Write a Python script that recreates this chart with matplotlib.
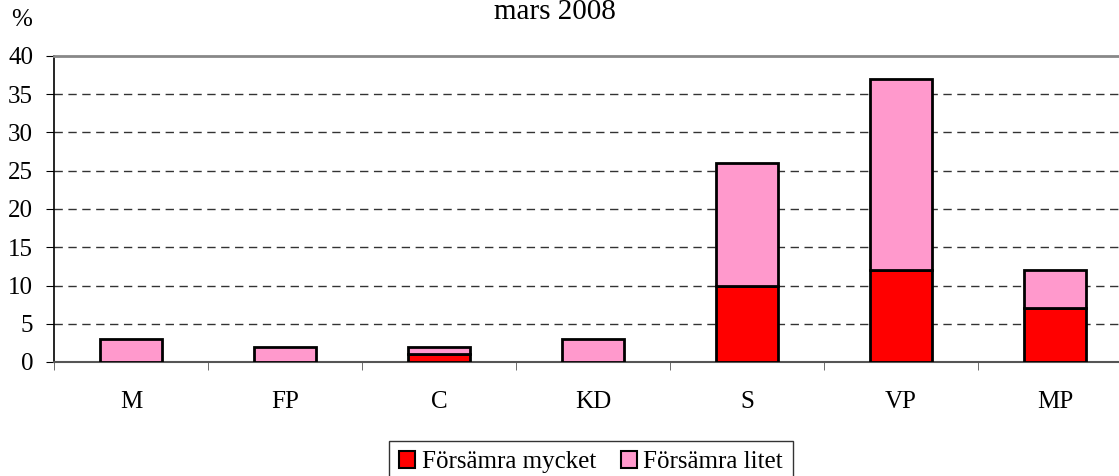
import matplotlib
matplotlib.use("Agg")
import matplotlib.pyplot as plt
from matplotlib.patches import Patch
import numpy as np

categories = ["M", "FP", "C", "KD", "S", "VP", "MP"]
mycket = [0, 0, 1, 0, 10, 12, 7]
litet = [3, 2, 1, 3, 16, 25, 5]
yticks = [0, 5, 10, 15, 20, 25, 30, 35, 40]
title = "mars 2008"
legend_labels = ["Försämra mycket", "Försämra litet"]

plt.rcParams['font.family'] = ['Liberation Serif', 'DejaVu Serif']
fs = 18

fig = plt.figure(figsize=(11.19, 4.76), dpi=100)
ax = fig.add_axes([54/1119, 114/476, 1078/1119, 306/476])

x = np.arange(len(categories))
w = 0.4
c1 = "#ff0000"
c2 = "#ff99cc"
ax.bar(x, mycket, w, color=c1, edgecolor="black", linewidth=2, zorder=3)
ax.bar(x, litet, w, bottom=mycket, color=c2, edgecolor="black", linewidth=2, zorder=3)

ax.set_xlim(-0.5, len(categories) - 0.5)
ax.set_ylim(0, 40)
ax.set_yticks(yticks)
ax.set_yticklabels([str(v) for v in yticks], fontsize=fs)
for v in yticks[1:-1]:
    ax.axhline(v, color="#333333", linestyle=(0, (6, 4)), linewidth=1, zorder=1)

ax.set_xticks(x)
ax.set_xticklabels(categories, fontsize=fs)
ax.set_xticks(np.arange(len(categories) + 1) - 0.5, minor=True)
ax.tick_params(axis="x", which="major", length=0, pad=21)
ax.tick_params(axis="x", which="minor", length=6, direction="out", color="#555555")
ax.tick_params(axis="y", length=6, direction="out", pad=9)

ax.spines["right"].set_visible(False)
ax.spines["top"].set_color("#888888")
ax.spines["top"].set_linewidth(2)
ax.spines["bottom"].set_color("#555555")
ax.spines["bottom"].set_linewidth(1.5)
ax.spines["left"].set_color("black")
ax.spines["left"].set_linewidth(1.2)

fig.text(555/1119, 1 - 12/476, title, ha="center", va="center", fontsize=21)
fig.text(22/1119, 1 - 20/476, "%", ha="center", va="center", fontsize=fs)

handles = [Patch(facecolor=c1, edgecolor="black", linewidth=1.5),
           Patch(facecolor=c2, edgecolor="black", linewidth=1.5)]
leg = fig.legend(handles, legend_labels, loc="center", bbox_to_anchor=(591/1119, 1 - 462/476),
                 ncol=2, fontsize=fs, frameon=True, fancybox=False, handlelength=0.65,
                 handleheight=0.65, handletextpad=0.25, columnspacing=1.0, borderpad=0.4,
                 borderaxespad=0)
leg.get_frame().set_edgecolor("black")
leg.get_frame().set_linewidth(1)

fig.savefig("out.png", dpi=100)
